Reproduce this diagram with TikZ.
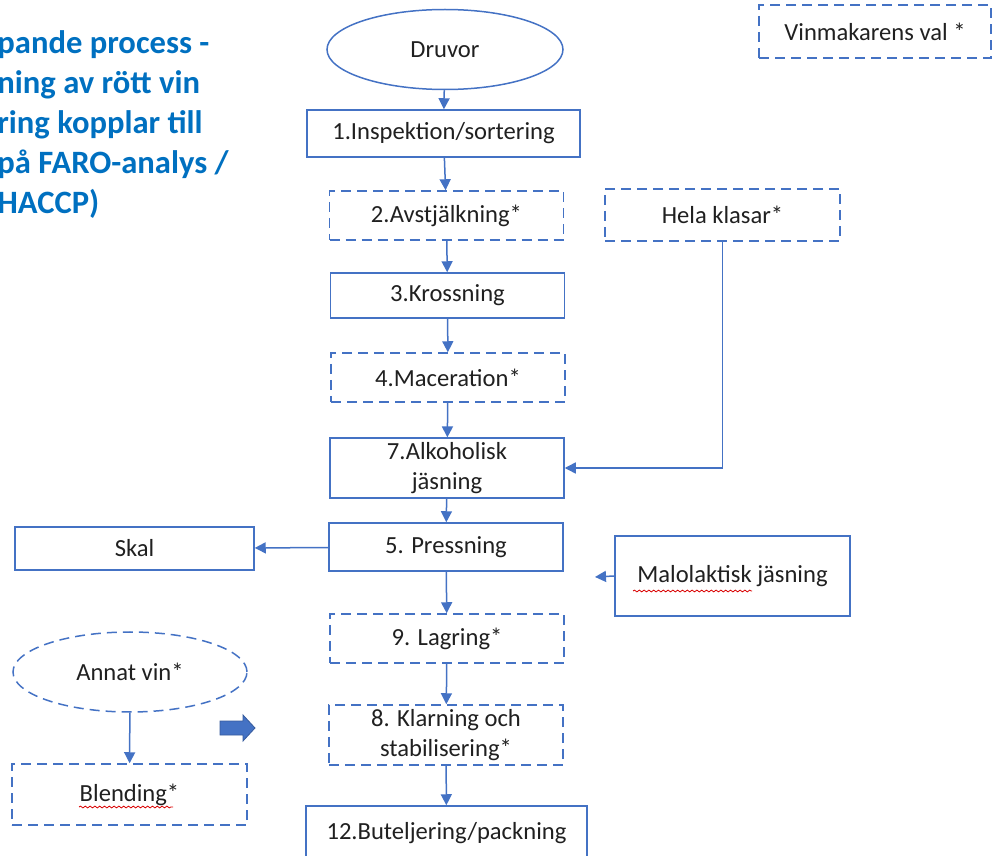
\documentclass[tikz,border=0pt]{standalone}
\usepackage{fontspec}
\setmainfont{Carlito}
\usetikzlibrary{arrows.meta,shapes.geometric,decorations.pathmorphing}
\definecolor{boxblue}{HTML}{4472C4}
\definecolor{titleblue}{HTML}{0070C0}
\definecolor{textgray}{HTML}{202020}
\tikzset{
  box/.style={draw=boxblue, line width=0.75pt, text=textgray, font=\fontsize{12.3}{15.2}\selectfont,
    minimum width=117pt, minimum height=24pt, inner sep=2pt, align=center},
  valbox/.style={box, dash pattern=on 5pt off 3pt},
  runda/.style={box, ellipse, minimum width=118pt, minimum height=40pt},
  pil/.style={draw=boxblue, line width=0.75pt, -{Triangle[width=5.5pt,length=5.5pt]}},
  krusel/.style={draw=red!85!black, line width=0.4pt, decorate,
    decoration={snake, amplitude=0.45pt, segment length=2.4pt}}
}
\begin{document}
\begin{tikzpicture}[x=0.5pt, y=-0.5pt]
\useasboundingbox (0,0) rectangle (993,856);  % 1 px = 0.5pt
% rubrik, vänsterkanten är avklippt
\node[anchor=north west, align=left, inner sep=0, text=titleblue,
  font=\bfseries\fontsize{16.3}{20}\selectfont] (rubrik) at (-3,30)
  {pande process -\\ning av rött vin\\ring kopplar till\\på FARO-analys /\\HACCP)};
\node[runda] (druvor) at (445,49.5) {Druvor};
\node[valbox, minimum width=116pt, minimum height=26.5pt] (val) at (875,31.5) {Vinmakarens val *};
\node[box, minimum width=136.5pt, minimum height=23.5pt] (insp) at (443.5,133.5) {1.Inspektion/sortering};
\node[valbox, minimum height=24.5pt] (avst) at (446.5,215.5) {2.Avstjälkning*};
\node[valbox, minimum width=117.5pt, minimum height=26pt] (hela) at (722.5,215) {Hela klasar*};
\node[box, minimum height=22.5pt] (kross) at (447.5,295.5) {3.Krossning};
\node[valbox, minimum height=24.5pt] (mac) at (448,377.5) {4.Maceration*};
\node[box] (alko) at (447,468) {7.Alkoholisk\\jäsning};
\node[box] (press) at (446,547) {5. Pressning};
\node[box, minimum width=119.5pt, minimum height=21.5pt] (skal) at (134.5,548.5) {Skal};
\node[box, minimum width=117.5pt, minimum height=40pt] (malo) at (732.5,576) {Malolaktisk jäsning};
\node[valbox, minimum height=24.5pt] (lag) at (447,638.5) {9. Lagring*};
\node[runda, dash pattern=on 5pt off 3pt, minimum width=117pt] (annat) at (130,672) {Annat vin*};
\node[valbox, minimum height=30pt] (klar) at (446,735) {8. Klarning och\\stabilisering*};
\node[valbox, minimum width=117.5pt, minimum height=30.5pt] (blend) at (129.5,794.5) {Blending*};
\node[box, minimum width=140.5pt, minimum height=27pt] (but) at (446.5,833) {12.Buteljering/packning};
\coordinate (maloend) at (595,577);
% pilar
\draw[pil] (druvor) -- (insp);
\draw[pil] (insp) -- (avst);
\draw[pil] (avst) -- (kross);
\draw[pil] (kross) -- (mac);
\draw[pil] (mac) -- (alko);
\draw[pil] (hela.south) |- (alko.east);
\draw[pil] (alko) -- (press);
\draw[pil] (press) -- (skal);
\draw[pil] (press) -- (lag);
\draw[pil] (lag) -- (klar);
\draw[pil] (klar) -- (but);
\draw[pil] (malo.west) -- (maloend);
\draw[pil] (annat) -- (blend);
% blockpil
\fill[boxblue, draw=boxblue!80!black, line width=0.4pt]
  (220,721) -- (243,721) -- (243,715) -- (255,728) -- (243,741) -- (243,735) -- (220,735) -- cycle;
% stavningskontroll
\draw[krusel] (79,807) -- (173,807);
\draw[krusel] (633,591) -- (752,591);
\end{tikzpicture}
\end{document}
